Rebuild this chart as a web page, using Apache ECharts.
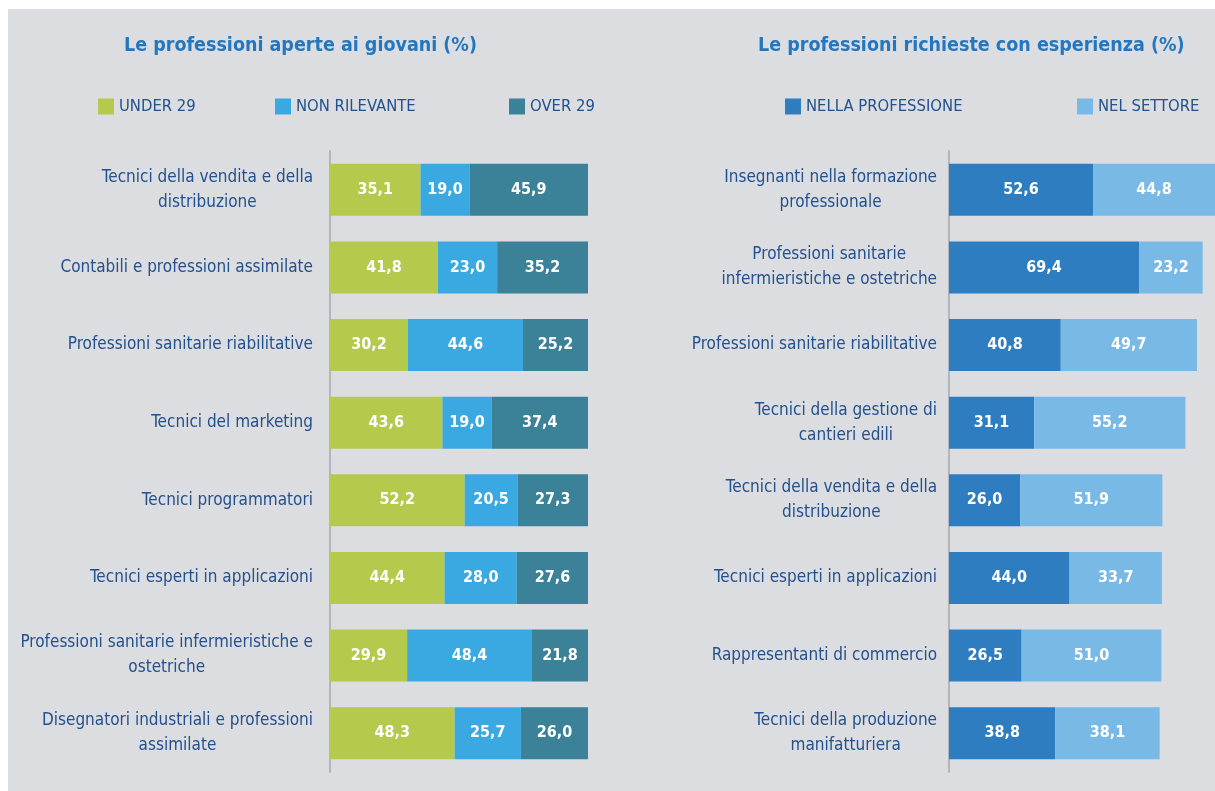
<!DOCTYPE html>
<html>
<head>
<meta charset="utf-8">
<title>Professioni</title>
<script src="https://cdn.jsdelivr.net/npm/echarts@6/dist/echarts.min.js"></script>
<style>
	html,body{margin:0;padding:0;background:#fff;}
	#chart{width:1215px;height:791px;}
</style>
</head>
<body>
<div id="chart"></div>
<script>
// dati grafico di sinistra: professioni aperte ai giovani
var youngCategories=['Tecnici della vendita e della\ndistribuzione','Contabili e professioni assimilate',
	'Professioni sanitarie riabilitative','Tecnici del marketing','Tecnici programmatori',
	'Tecnici esperti in applicazioni','Professioni sanitarie infermieristiche e\nostetriche',
	'Disegnatori industriali e professioni\nassimilate'];
var under29=[35.1,41.8,30.2,43.6,52.2,44.4,29.9,48.3];
var nonRilevante=[19.0,23.0,44.6,19.0,20.5,28.0,48.4,25.7];
var over29=[45.9,35.2,25.2,37.4,27.3,27.6,21.8,26.0];

// dati grafico di destra: professioni richieste con esperienza
var expCategories=['Insegnanti nella formazione\nprofessionale','Professioni sanitarie\ninfermieristiche e ostetriche',
	'Professioni sanitarie riabilitative','Tecnici della gestione di\ncantieri edili',
	'Tecnici della vendita e della\ndistribuzione','Tecnici esperti in applicazioni',
	'Rappresentanti di commercio','Tecnici della produzione\nmanifatturiera'];
var nellaProfessione=[52.6,69.4,40.8,31.1,26.0,44.0,26.5,38.8];
var nelSettore=[44.8,23.2,49.7,55.2,51.9,33.7,51.0,38.1];

//carattere stretto
var FONT='"DejaVu Sans Condensed","Liberation Sans Narrow",Roboto,sans-serif';
var NAVY='#23508e';

var myChart=echarts.init(document.getElementById('chart'));

//etichette numeriche con la virgola
function valueLabel(){
	return {
		show:true,
		position:'inside',
		color:'#fff',
		fontFamily:FONT,
		fontWeight:'bold',
		fontSize:16,
		formatter:function(p){return p.value.toFixed(1).replace('.',',');}
	};
}

function categoryAxis(idx,data,margin){
	return {
		type:'category',
		gridIndex:idx,
		inverse:true,
		data:data,
		axisTick:{show:false},
		axisLine:{lineStyle:{color:'#b4b5b9',width:2}},
		axisLabel:{
			margin:margin,
			fontFamily:FONT,
			fontSize:17,
			color:NAVY,
			lineHeight:25,
			//righe centrate tra loro, blocco allineato a destra
			formatter:function(v){
				return v.split('\n').map(function(l){return '{c|'+l+'}';}).join('\n');
			},
			rich:{c:{align:'center',fontFamily:FONT,fontSize:17,color:NAVY,lineHeight:25}}
		}
	};
}

function legendItem(name,left){
	return {
		data:[name],
		left:left,
		top:98,
		padding:0,
		icon:'rect',
		itemWidth:16,
		itemHeight:16,
		selectedMode:false,
		textStyle:{fontFamily:FONT,fontSize:16.5,color:NAVY}
	};
}

function barSeries(name,data,color,idx){
	return {
		name:name,
		type:'bar',
		stack:'s'+idx,
		xAxisIndex:idx,
		yAxisIndex:idx,
		barWidth:52,
		data:data,
		itemStyle:{color:color},
		label:valueLabel()
	};
}

var option={
	backgroundColor:'#fff',
	animation:false,
	graphic:[{
		type:'rect',
		left:8,
		top:9,
		z:-10,
		shape:{width:1207,height:782},
		style:{fill:'#dcdde0'}
	}],
	title:[{
		text:'Le professioni aperte ai giovani (%)',
		left:124,
		top:36,
		padding:0,
		textStyle:{fontFamily:FONT,fontWeight:'bold',fontSize:19.5,color:'#2277c0'}
	},{
		text:'Le professioni richieste con esperienza (%)',
		left:758,
		top:36,
		padding:0,
		textStyle:{fontFamily:FONT,fontWeight:'bold',fontSize:19.5,color:'#2277c0'}
	}],
	legend:[
		legendItem('UNDER 29',98),
		legendItem('NON RILEVANTE',275),
		legendItem('OVER 29',509),
		legendItem('NELLA PROFESSIONE',785),
		legendItem('NEL SETTORE',1077)
	],
	grid:[
		{left:330,top:151,width:258,height:621},
		{left:949,top:151,width:266,height:621}
	],
	xAxis:[
		{type:'value',gridIndex:0,min:0,max:100,show:false},
		//la scala di destra va oltre il bordo: 97.1 = 266px su 274px per 100
		{type:'value',gridIndex:1,min:0,max:97.1,show:false}
	],
	yAxis:[
		categoryAxis(0,youngCategories,17),
		categoryAxis(1,expCategories,12)
	],
	series:[
		barSeries('UNDER 29',under29,'#b5c94c',0),
		barSeries('NON RILEVANTE',nonRilevante,'#3aa9e1',0),
		barSeries('OVER 29',over29,'#3b8198',0),
		barSeries('NELLA PROFESSIONE',nellaProfessione,'#2f7dc1',1),
		barSeries('NEL SETTORE',nelSettore,'#78b9e6',1)
	]
};
myChart.setOption(option);
</script>
</body>
</html>
